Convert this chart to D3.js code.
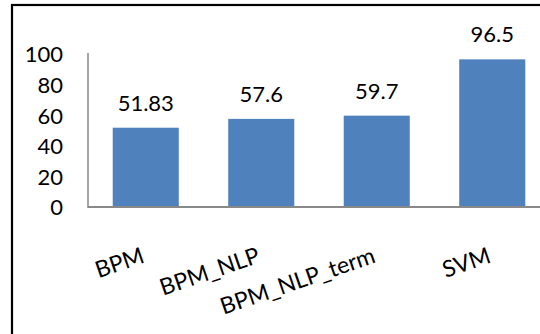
<!DOCTYPE html>
<html>
<head>
<meta charset="utf-8">
<script src="https://cdn.jsdelivr.net/npm/d3@7"></script>
<style>
  html, body { margin: 0; padding: 0; background: #fff; }
  svg { display: block; }
</style>
</head>
<body>
<svg id="chart" width="540" height="334"></svg>
<script>
const categories = ["BPM", "BPM_NLP", "BPM_NLP_term", "SVM"];
const values = [51.83, 57.6, 59.7, 96.5];
const valueLabels = ["51.83", "57.6", "59.7", "96.5"];
const yTicks = [0, 20, 40, 60, 80, 100];

(function () {
const svg = d3.select("#chart");
const W = 540, H = 334;
const mLeft = 88, mRight = 550, mTop = 54, mBottom = 207;

const FONT = "Lato, sans-serif";
const FS = 22;

svg.append("rect").attr("width", W).attr("height", H).attr("fill", "#fff");

// outer frame (only left and top visible)
svg.append("rect")
  .attr("x", 12).attr("y", 5)
  .attr("width", 600).attr("height", 400)
  .attr("fill", "none").attr("stroke", "#000").attr("stroke-width", 2.2);

const x = d3.scaleBand().domain(categories).range([mLeft, mRight])
  .paddingInner(0.428).paddingOuter(0.214);
const y = d3.scaleLinear().domain([0, 100]).range([mBottom, mTop]);

// y axis tick labels
const yAxis = d3.axisLeft(y).tickValues(yTicks).tickSize(0).tickPadding(25).tickFormat(d3.format("d"));
const ya = svg.append("g").attr("transform", `translate(${mLeft},0)`).call(yAxis);
ya.select(".domain").remove();
ya.selectAll("text").attr("font-size", FS).attr("font-family", FONT).attr("fill", "#000").attr("dy", "0.36em");

// bars
svg.selectAll("rect.bar").data(values).enter().append("rect")
  .attr("class", "bar")
  .attr("x", (d, i) => x(categories[i]))
  .attr("y", d => y(d))
  .attr("width", x.bandwidth())
  .attr("height", d => y(0) - y(d))
  .attr("fill", "#4F81BD");

// value labels
svg.selectAll("text.val").data(values).enter().append("text")
  .attr("class", "val")
  .attr("x", (d, i) => x(categories[i]) + x.bandwidth() / 2)
  .attr("y", d => y(d) - 17)
  .attr("text-anchor", "middle")
  .attr("font-family", FONT)
  .attr("font-size", FS)
  .attr("fill", "#000")
  .text((d, i) => valueLabels[i]);

// axis lines
svg.append("line").attr("x1", mLeft).attr("x2", mLeft).attr("y1", mTop - 1).attr("y2", mBottom + 1)
  .attr("stroke", "#898989").attr("stroke-width", 1.5);
svg.append("line").attr("x1", mLeft).attr("x2", W + 20).attr("y1", mBottom).attr("y2", mBottom)
  .attr("stroke", "#898989").attr("stroke-width", 2);

// category labels
const xAxis = d3.axisBottom(x).tickSize(0).tickPadding(0);
const xa = svg.append("g").attr("transform", `translate(0,${mBottom})`).call(xAxis);
xa.select(".domain").remove();
xa.selectAll("text")
  .attr("font-size", 23).attr("font-family", FONT).attr("fill", "#000")
  .attr("text-anchor", "end")
  .attr("dy", 0)
  .attr("y", 0)
  .attr("transform", "translate(0,55) rotate(-19)");
})();
</script>
</body>
</html>
